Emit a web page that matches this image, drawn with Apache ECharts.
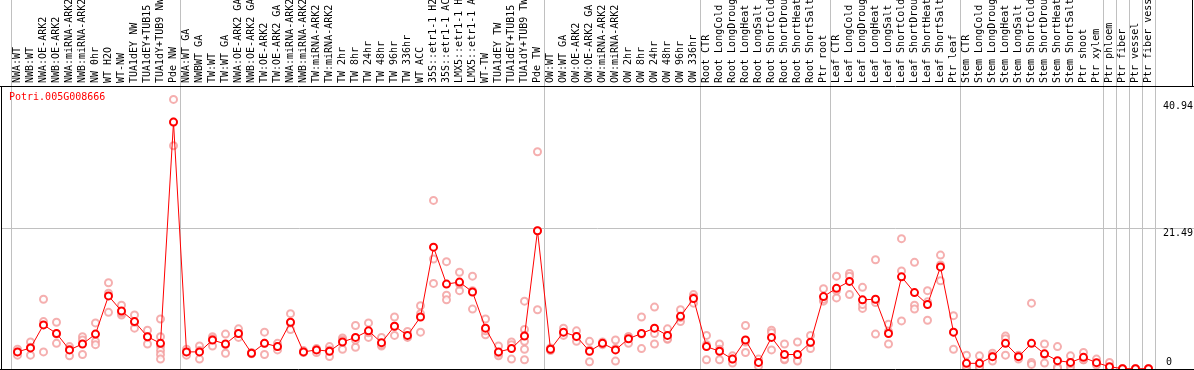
<!DOCTYPE html>
<html>
<head>
<meta charset="utf-8">
<script src="https://cdn.jsdelivr.net/npm/echarts@6/dist/echarts.min.js"></script>
<style>
html,body{margin:0;padding:0;background:#fff;}
#chart{width:1194px;height:370px;}
</style>
</head>
<body>
<div id="chart"></div>
<script>
const geneName = 'Potri.005G008666';

const categories = [
'NWA:WT','NWB:WT','NWA:OE-ARK2','NWB:OE-ARK2','NWA:miRNA-ARK2','NWB:miRNA-ARK2','NW 0hr','WT H2O','WT-NW','TUA1dEY NW','TUA1dEY+TUB15 NW','TUA1dY+TUB9 NW','Pde NW',
'NWA:WT GA','NWBWT GA','TW:WT','TW:WT GA','NWA:OE-ARK2 GA','NWB:OE-ARK2 GA','TW:OE-ARK2','TW:OE-ARK2 GA','NWA:miRNA-ARK2','NWB:miRNA-ARK2','TW:miRNA-ARK2','TW:miRNA-ARK2','TW 2hr','TW 8hr','TW 24hr','TW 48hr','TW 96hr','TW 336hr','WT ACC','35S::etr1-1 H2O','35S::etr1-1 ACC','LMX5::etr1-1 H2O','LMX5::etr1-1 ACC','WT-TW','TUA1dEY TW','TUA1dEY+TUB15 TW','TUA1dY+TUB9 TW','Pde TW',
'OW:WT','OW:WT GA','OW:OE-ARK2','OW:OE-ARK2 GA','OW:miRNA-ARK2','OW:miRNA-ARK2','OW 2hr','OW 8hr','OW 24hr','OW 48hr','OW 96hr','OW 336hr',
'Root CTR','Root LongCold','Root LongDrought','Root LongHeat','Root LongSalt','Root ShortCold','Root ShortDrought','Root ShortHeat','Root ShortSalt','Ptr root',
'Leaf CTR','Leaf LongCold','Leaf LongDrought','Leaf LongHeat','Leaf LongSalt','Leaf ShortCold','Leaf ShortDrought','Leaf ShortHeat','Leaf ShortSalt','Ptr leaf',
'Stem CTR','Stem LongCold','Stem LongDrought','Stem LongHeat','Stem LongSalt','Stem ShortCold','Stem ShortDrought','Stem ShortHeat','Stem ShortSalt','Ptr shoot','Ptr xylem',
'Ptr phloem','Ptr fiber','Ptr vessel','Ptr fiber vessel'
];

// index of first category in each group (last entry = end)
const groupStarts = [0, 13, 41, 53, 63, 73, 84, 85, 86, 87, 88];

const meanValues = [
2.6, 3.2, 6.7, 5.4, 2.9, 3.8, 5.3, 11.1, 8.8, 7.2, 4.9, 3.9, 37.5,
2.6, 2.6, 4.4, 3.8, 5.4, 2.4, 3.9, 3.4, 7.1, 2.6, 2.9, 2.7, 4.1, 4.8, 5.8, 4.0, 6.5, 5.1, 7.9, 18.5, 12.9, 13.2, 11.7, 6.2, 2.6, 3.1, 5.0, 21.0,
3.0, 5.6, 4.95, 2.7, 3.9, 2.9, 4.6, 5.4, 6.2, 5.1, 8.0, 10.7,
3.4, 2.7, 1.5, 4.4, 1.0, 4.8, 2.2, 2.2, 4.05, 11.0,
12.25, 13.3, 10.5, 10.6, 5.4, 14.0, 11.6, 9.8, 15.5, 5.6,
0.86, 0.86, 1.87, 3.9, 1.87, 3.9, 2.3, 1.27, 1.0, 1.77, 0.96,
0.35, 0.05, 0.05, 0.05
];

const replicateValues = [
[3.0,2.1,2.6],[4.1,2.1,3.3],[10.6,7.2,2.6],[7.1,3.9,5.3],[3.4,2.0,3.0],[4.9,4.4,2.2],[7.0,4.2,3.7],[13.1,11.5,8.6],[9.7,8.2,8.5],[8.2,6.2,7.1],[5.9,3.8,4.9],[7.6,4.9,3.4,2.8,2.2,1.5],[40.94,33.9,37.5],
[2.1,3.0,2.6],[3.5,1.5,2.8],[4.9,3.5,4.6],[5.3,2.4,3.7],[6.1,4.8,5.4],[2.3,2.5,2.4],[5.6,2.2,3.9],[3.9,2.9,3.4],[8.4,6.0,7.0],[2.8,2.5,2.6],[3.1,2.5,3.0],[3.4,1.9,2.9],[4.7,3.0,4.4],[6.6,3.3,4.4],[7.0,4.8,5.5],[4.8,3.5,3.7],[7.9,5.1,6.5],[5.7,4.9,4.8],[9.6,5.6,8.4],[25.6,16.7,13.0],[16.3,11.2,10.5],[14.7,11.9,12.9],[14.1,9.1,11.9],[7.6,5.2,5.8],[3.5,2.0,2.4],[4.1,1.5,3.7],[10.3,6.0,4.2,3.0,1.4,5.1],[33.0,9.0,21.0],
[2.8,3.2,3.0],[6.2,5.4,5.1],[5.8,4.2,4.9],[4.2,1.1,2.9],[4.1,3.7,3.9],[4.4,1.2,3.1],[4.9,3.9,4.9],[7.9,3.1,5.3],[9.4,3.8,5.4],[6.1,4.5,4.6],[9.0,7.2,7.8],[11.3,10.9,10.0],
[5.1,1.4,3.7],[3.8,1.4,3.0],[2.0,0.9,1.5],[6.6,2.5,4.1],[1.5,0.4,1.0],[5.9,2.9,5.5],[3.8,1.4,1.5],[4.1,1.4,1.2],[5.1,3.1,4.0],[12.2,10.3,10.6],
[14.1,10.8,11.9],[14.5,11.3,14.1],[12.4,9.2,9.8],[16.6,5.3,10.1],[6.8,3.8,5.7],[19.8,14.9,7.3],[16.2,9.7,9.1],[11.9,7.4,10.2],[17.3,13.4,15.8],[8.1,3.0,5.6],
[2.1,0.1,0.4],[2.0,0.3,0.3],[2.4,1.2,2.0],[5.0,2.1,4.6],[2.1,1.5,2.0],[10.0,1.0,0.7],[3.8,0.9,2.2],[3.4,0.3,0.1],[2.0,0.3,0.8],[2.5,1.4,1.4],[1.5,0.8,0.6],
[1.0,0.0,0.1],[0.05,0.05,0.05],[0.05,0.05,0.05],[0.05,0.05,0.05]
];

const yMax = 42.98;
const yTickLabels = [0, 21.49];
const maxValueLabel = 40.94;

const scatterData = [];
replicateValues.forEach((arr, i) => arr.forEach(v => scatterData.push([i, v])));

const monoFont = 'DejaVu Sans Mono';
const chart = echarts.init(document.getElementById('chart'), null, {renderer: 'canvas'});
chart.setOption({
  animation: false,
  grid: {left: 11, right: 39, top: 86, bottom: 1, containLabel: false, outerBoundsMode: 'none'},
  xAxis: {
    type: 'category', data: categories, position: 'top', boundaryGap: true,
    axisLine: {show: false}, axisTick: {show: false}, splitLine: {show: false},
    axisLabel: {interval: 0, rotate: 90, fontFamily: monoFont, fontSize: 10, color: '#000', margin: 3, hideOverlap: false}
  },
  yAxis: {
    type: 'value', position: 'right', min: 0, max: yMax,
    axisLine: {show: false}, axisTick: {show: false}, axisLabel: {show: false}, splitLine: {show: false}
  },
  series: [
    {
      type: 'scatter', data: scatterData, symbol: 'emptyCircle', symbolSize: 7,
      itemStyle: {color: '#f29b9b', borderColor: '#f29b9b', borderWidth: 1.3},
      z: 2, silent: true
    },
    {
      type: 'line', data: meanValues, symbol: 'emptyCircle', symbolSize: 7, showAllSymbol: true,
      lineStyle: {color: '#ff0000', width: 1},
      itemStyle: {color: '#ff0000', borderColor: '#ff0000', borderWidth: 1.6},
      z: 3, silent: true
    }
  ]
});

// frame, group separators and labels positioned through the axes' scales
const px = i => chart.convertToPixel({xAxisIndex: 0}, i);
const py = v => chart.convertToPixel({yAxisIndex: 0}, v);
const band = px(1) - px(0);
const x0 = px(0) - band / 2;
const W = 1194, H = 370;
const yTop = Math.round(py(yMax)), yBot = Math.round(py(0));
const gfx = [];
const line = (x1, y1, x2, y2, c, z) => gfx.push({type: 'line', z: z || 1, silent: true,
  shape: {x1, y1, x2, y2}, style: {stroke: c, lineWidth: 1}});
groupStarts.forEach(b => {
  const x = Math.round(x0 + b * band) + 0.5;
  line(x, 0, x, H, '#c0c0c0', 1);
});
const yMid = Math.round(py(yTickLabels[1])) + 0.5;
line(1, yMid, W, yMid, '#c0c0c0', 1);
// black frame
line(0, yTop + 0.5, W, yTop + 0.5, '#000', 5);
line(0, yBot + 0.5, W, yBot + 0.5, '#000', 5);
line(1.5, yTop, 1.5, yBot, '#000', 5);
line(W - 1.5, 0, W - 1.5, yTop, '#000', 5);
// value labels
const labX = 1163;
gfx.push({type: 'text', z: 6, silent: true, style: {text: String(maxValueLabel), x: labX, y: py(maxValueLabel) + 2,
  font: '10px ' + monoFont, fill: '#000', textAlign: 'left', textVerticalAlign: 'top'}});
gfx.push({type: 'text', z: 6, silent: true, style: {text: String(yTickLabels[1]), x: labX, y: py(yTickLabels[1]) + 1,
  font: '10px ' + monoFont, fill: '#000', textAlign: 'left', textVerticalAlign: 'top'}});
gfx.push({type: 'text', z: 6, silent: true, style: {text: String(yTickLabels[0]), x: labX + 3, y: py(0) - 2,
  font: '10px ' + monoFont, fill: '#000', textAlign: 'left', textVerticalAlign: 'bottom'}});
gfx.push({type: 'text', z: 6, silent: true, style: {text: geneName, x: 9, y: 97,
  font: '10px ' + monoFont, fill: '#ff0000', textAlign: 'left', textVerticalAlign: 'middle'}});
chart.setOption({graphic: gfx});
</script>
</body>
</html>
